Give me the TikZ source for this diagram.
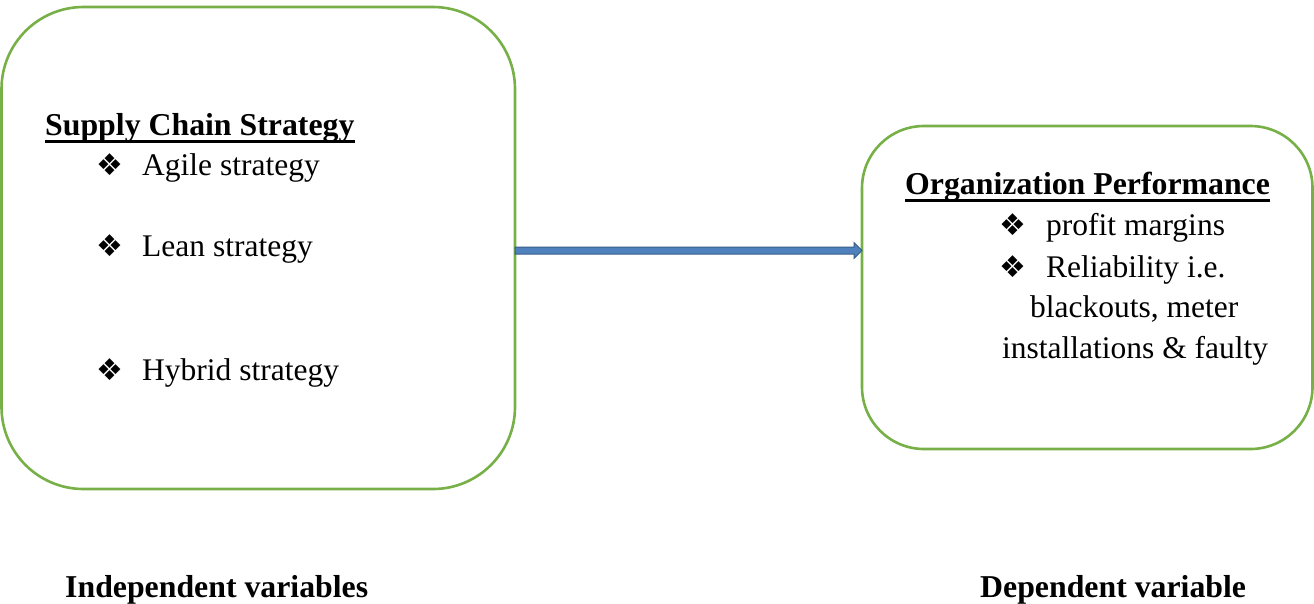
\documentclass[tikz,border=0pt]{standalone}
\usepackage{fontspec}
\usetikzlibrary{calc}
\setmainfont{Liberation Serif}
\newfontfamily\symfont{DejaVu Sans}
\definecolor{boxgreen}{RGB}{119,176,70}
\definecolor{arrfill}{RGB}{79,129,189}
\definecolor{arrline}{RGB}{56,93,138}
\begin{document}
\begin{tikzpicture}[x=1pt,y=-1pt,
  frame/.style={draw=boxgreen,line width=2.6pt},
  txt/.style={anchor=base west,inner sep=0pt,font=\fontsize{31.5}{38}\selectfont},
  btxt/.style={txt,font=\fontsize{31.8}{38}\selectfont\bfseries},
  bul/.style={anchor=base west,inner sep=0pt,font=\symfont\fontsize{30}{32}\selectfont},
  uline/.style={line width=2.6pt}]
\useasboundingbox (0,0) rectangle (1314,603);
% boxes
\draw[frame,rounded corners=82pt] (1.5,7) rectangle (515,489);
\draw[frame,rounded corners=62pt] (862,126) rectangle (1312.5,449);
\coordinate (L) at (515,250.5);
\coordinate (R) at (862,250.5);
% arrow
\draw[fill=arrfill,draw=arrline,line width=1pt]
  ($(L)+(0,-3.5)$) -- ($(R)+(-8,-3.5)$) -- ($(R)+(-8,-8)$) -- (R) -- ($(R)+(-8,8)$) -- ($(R)+(-8,3.5)$) -- ($(L)+(0,3.5)$) -- cycle;
% left text
\node[btxt] (h1) at (45,135) {Supply Chain Strategy};
\draw[uline] ($(h1.base west)+(0,6.5)$) -- ($(h1.base east)+(0,6.5)$);
\node[bul] (b1) at (96,175) {❖};
\node[txt] (t1) at (142,175) {Agile strategy};
\node[bul] (b2) at (96,256) {❖};
\node[txt] (t2) at (142,256) {Lean strategy};
\node[bul] (b3) at (96,380) {❖};
\node[txt] (t3) at (142,380) {Hybrid strategy};
% right text
\node[btxt] (h2) at (905,194) {Organization Performance};
\draw[uline] ($(h2.base west)+(0,6.5)$) -- ($(h2.base east)+(0,6.5)$);
\node[bul] (b4) at (999,235) {❖};
\node[txt] (t4) at (1046,235) {profit margins};
\node[bul] (b5) at (999,277) {❖};
\node[txt] (t5) at (1046,277) {Reliability i.e.};
\node[txt] (t6) at (1030,317) {blackouts, meter};
\node[txt] (t7) at (1002,358) {installations \& faulty};
% bottom labels
\node[btxt] (i1) at (65,597) {Independent variables};
\node[btxt] (d1) at (980,597) {Dependent variable};
\end{tikzpicture}
\end{document}
